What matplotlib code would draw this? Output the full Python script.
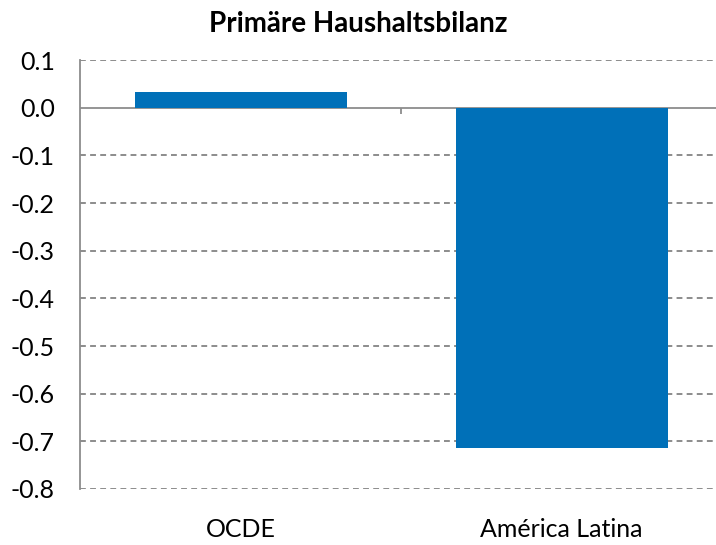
import matplotlib.pyplot as plt
import numpy as np

# Data
categories = ['OCDE', 'América Latina']
values = [0.034, -0.714]
yticks = [0.1, 0.0, -0.1, -0.2, -0.3, -0.4, -0.5, -0.6, -0.7, -0.8]

plt.rcParams['font.family'] = ['Lato', 'DejaVu Sans']

fig = plt.figure(figsize=(7.16, 5.45), dpi=100)
ax = fig.add_axes([0.1117, 0.1028, 0.897, 0.787])

x = np.arange(len(categories))
ax.bar(x, values, width=0.66, color='#0070B8', zorder=3)

ax.set_xlim(-0.5, 1.5)
ax.set_ylim(-0.8, 0.1)

# dashed gridlines, solid zero line
ax.set_yticks(yticks)
ax.set_yticklabels([f'{v:.1f}' for v in yticks], fontsize=18)
for v in yticks:
    if v != 0:
        ax.axhline(v, color='#8c8c8c', linestyle=(0, (3, 2.2)), linewidth=1.4, zorder=1)
ax.axhline(0, color='#8c8c8c', linewidth=1.3, zorder=2)
ax.vlines(0.5, -0.014, 0, color='#8c8c8c', linewidth=1.3, zorder=2)

ax.set_xticks(x)
ax.set_xticklabels(categories, fontsize=18)
ax.tick_params(axis='x', length=0, pad=21)
ax.tick_params(axis='y', length=0, pad=18)

for s in ['top', 'right', 'bottom']:
    ax.spines[s].set_visible(False)
ax.spines['left'].set_color('#8c8c8c')
ax.spines['left'].set_linewidth(1.3)

fig.text(0.5, 0.941, 'Primäre Haushaltsbilanz', fontsize=20, fontweight='bold',
         ha='center', va='baseline')

fig.savefig('out.png', dpi=100)
